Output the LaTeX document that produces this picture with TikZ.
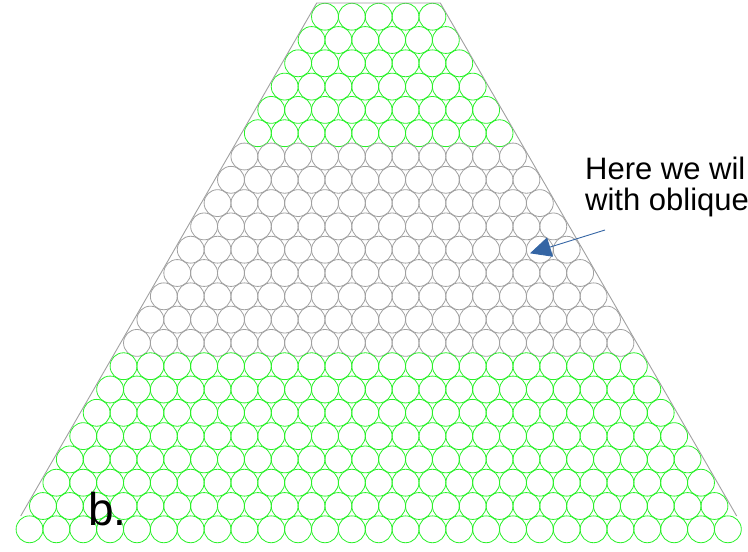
\documentclass[tikz,border=0pt]{standalone}
\usepackage{fontspec}
\setmainfont{Liberation Sans}
\usepackage{xcolor}
\usetikzlibrary{arrows.meta}
\definecolor{Lime}{RGB}{40,240,40}
\definecolor{Ash}{RGB}{160,160,160}
\definecolor{Cobalt}{RGB}{52,101,164}

\begin{document}
\begin{tikzpicture}[x=1pt,y=-1pt,
    ball/.style={line width=0.8pt},
    rim/.style={draw=Ash,line width=0.9pt},
    pointer/.style={Cobalt,line width=0.9pt,-{Triangle[length=21pt,width=20pt]}},
    label/.style={anchor=base west,inner sep=0pt,text=black}]
  \useasboundingbox (0,0) rectangle (748,552);
  % hexagonal stack of circles, 5 to 27 per row
  \foreach \k in {0,...,22}{
    \pgfmathtruncatemacro{\last}{4+\k}
    \ifnum\k<6 \def\tone{Lime}\else\ifnum\k>14 \def\tone{Lime}\else\def\tone{Ash}\fi\fi
    \foreach \j in {0,...,\last}
      \draw[ball,\tone] ({378.7+(\j-\last/2)*26.86},{16.7+23.3*\k}) circle[radius=13.43pt];
  }
  % outline of the stack
  \coordinate (tl) at (316.7,3);
  \coordinate (tr) at (440.3,3);
  \coordinate (bl) at (20.7,516);
  \coordinate (br) at (736.7,516);
  \draw[rim] (bl) -- (tl) -- (tr) -- (br);
  % notes
  \node[label,font=\fontsize{31}{31}\selectfont] (noteA) at (585,179.3) {Here we wil};
  \node[label,font=\fontsize{31}{31}\selectfont] (noteB) at (585,210) {with oblique};
  \node[label,font=\fontsize{46}{50}\selectfont] (tag) at (88,525) {b.};
  \coordinate (tail) at (605,230);
  \coordinate (tip) at (530,253.3);
  \draw[pointer] (tail) -- (tip);
\end{tikzpicture}
\end{document}
